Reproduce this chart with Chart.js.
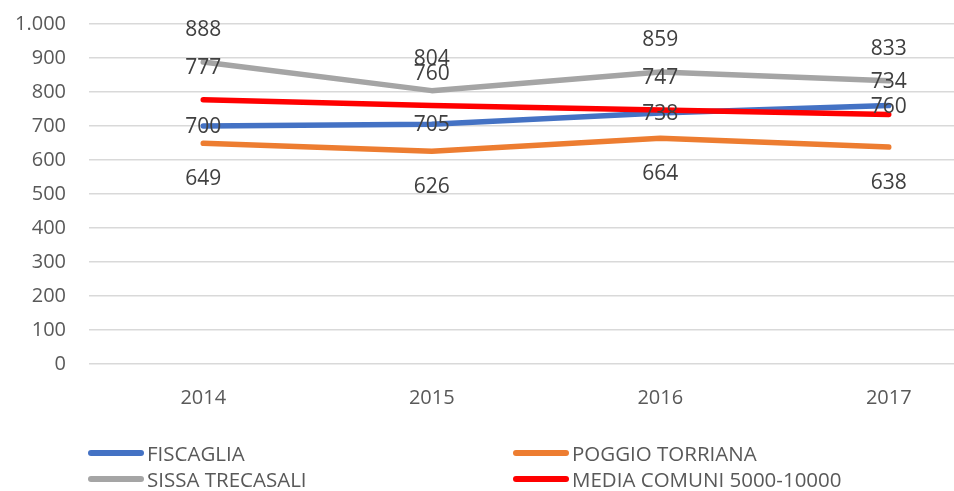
<!DOCTYPE html>
<html>
<head>
<meta charset="utf-8">
<script src="https://cdn.jsdelivr.net/npm/chart.js@4"></script>
<style>
  html, body { margin: 0; padding: 0; background: #fff; overflow: hidden; width: 954px; height: 491px; }
  #wrap { position: absolute; left: 0; top: 0; width: 1003px; height: 430px; }
  #legend { position: absolute; left: 0; top: 0; width: 954px; height: 491px; pointer-events: none;
            font-family: "Open Sans", sans-serif; font-size: 20.5px; color: #595959; }
  .li { position: absolute; height: 26px; display: flex; align-items: center; }
  .sw { width: 56px; height: 6px; border-radius: 3px; margin-right: 3px; }
</style>
</head>
<body>
<div id="wrap"><canvas id="c"></canvas></div>
<div id="legend"></div>
<script>
const categories = ["2014", "2015", "2016", "2017"];
const fiscaglia = [700, 705, 738, 760];
const poggioTorriana = [649, 626, 664, 638];
const sissaTrecasali = [888, 804, 859, 833];
const mediaComuni = [777, 760, 747, 734];
const seriesNames = ["FISCAGLIA", "POGGIO TORRIANA", "SISSA TRECASALI", "MEDIA COMUNI 5000-10000"];
const seriesColors = ["#4472C4", "#ED7D31", "#A5A5A5", "#FF0000"];

function itFormat(v) {
  const s = String(Math.round(v));
  return s.replace(/\B(?=(\d{3})+(?!\d))/g, ".");
}

const labelPlugin = {
  id: "dataLabels",
  afterDatasetsDraw(chart) {
    const ctx = chart.ctx;
    ctx.save();
    ctx.font = '21px "Open Sans", sans-serif';
    ctx.fillStyle = "#404040";
    ctx.textAlign = "center";
    ctx.textBaseline = "middle";
    chart.data.datasets.forEach((ds, i) => {
      const meta = chart.getDatasetMeta(i);
      meta.data.forEach((pt, j) => {
        ctx.fillText(String(ds.data[j]), pt.x, pt.y + ds.labelOffset);
      });
    });
    ctx.restore();
  }
};

const seriesData = [fiscaglia, poggioTorriana, sissaTrecasali, mediaComuni];
const offsets = [1, 36, -32, -32];
const orders = [3, 2, 1, 0];

const chart = new Chart(document.getElementById("c"), {
  type: "line",
  data: {
    labels: categories,
    datasets: seriesData.map((d, i) => ({
      label: seriesNames[i],
      data: d,
      borderColor: seriesColors[i],
      backgroundColor: seriesColors[i],
      borderWidth: 5.5,
      borderCapStyle: "round",
      borderJoinStyle: "round",
      pointRadius: 0,
      tension: 0,
      fill: false,
      order: orders[i],
      labelOffset: offsets[i]
    }))
  },
  options: {
    responsive: true,
    maintainAspectRatio: false,
    animation: false,
    layout: { padding: { top: 24, left: 0, right: 0, bottom: 0 } },
    plugins: { legend: { display: false }, tooltip: { enabled: false } },
    scales: {
      x: {
        offset: true,
        grid: { display: false, drawTicks: false },
        border: { display: false },
        ticks: { padding: 22, color: "#595959", font: { family: "Open Sans", size: 20 } },
        afterFit(scale) { scale.height = 66; scale.paddingLeft = 0; scale.paddingRight = 0; }
      },
      y: {
        min: 0, max: 1000,
        grid: { color: "#D9D9D9", lineWidth: 1.5, drawTicks: false },
        border: { display: false },
        ticks: { stepSize: 100, padding: 23, color: "#595959", font: { family: "Open Sans", size: 20 },
                 callback: v => itFormat(v) },
        afterFit(scale) { scale.width = 89; scale.paddingTop = 0; scale.paddingBottom = 0; }
      }
    }
  },
  plugins: [labelPlugin]
});

// legend (two columns)
const legendPos = [[88, 440], [513, 440], [88, 466], [513, 466]];
const lg = document.getElementById("legend");
seriesNames.forEach((n, i) => {
  const el = document.createElement("div");
  el.className = "li";
  el.style.left = legendPos[i][0] + "px";
  el.style.top = legendPos[i][1] + "px";
  el.innerHTML = '<span class="sw" style="background:' + seriesColors[i] + '"></span><span>' + n + '</span>';
  lg.appendChild(el);
});
</script>
</body>
</html>
